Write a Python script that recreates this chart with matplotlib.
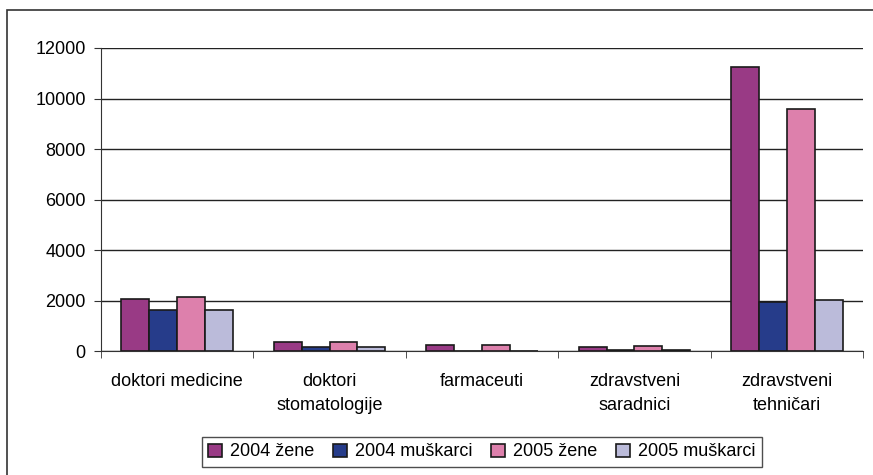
import numpy as np
import matplotlib
matplotlib.use('Agg')
import matplotlib.pyplot as plt
from matplotlib.patches import Rectangle

plt.rcParams['font.family'] = ['Liberation Sans', 'DejaVu Sans']

categories = ['doktori medicine', 'doktori\nstomatologije', 'farmaceuti',
              'zdravstveni\nsaradnici', 'zdravstveni\ntehničari']
series_names = ['2004 žene', '2004 muškarci', '2005 žene', '2005 muškarci']
zene_2004 = [2070, 350, 255, 160, 11260]
muskarci_2004 = [1640, 150, 15, 55, 1925]
zene_2005 = [2150, 350, 255, 185, 9570]
muskarci_2005 = [1640, 175, 15, 40, 2015]
colors = ['#993A85', '#263C8A', '#DD80AC', '#BBBBDA']
yticks = [0, 2000, 4000, 6000, 8000, 10000, 12000]

fig = plt.figure(figsize=(8.73, 4.75), dpi=100)
ax = fig.add_axes([101 / 873, 1 - 351 / 475, 762 / 873, 303 / 475])

# outer chart frame (right and bottom edges fall outside the image)
fig.patches.append(Rectangle((7 / 873, -0.05), 1, 1.05 - 10 / 475, transform=fig.transFigure,
                             fill=False, edgecolor='#333333', linewidth=1.2))

x = np.arange(len(categories))
w = 0.183
data = [zene_2004, muskarci_2004, zene_2005, muskarci_2005]
for i, (vals, name, c) in enumerate(zip(data, series_names, colors)):
    ax.bar(x + (i - 1.5) * w, vals, w, color=c, edgecolor='#1a1a1a',
           linewidth=1.2, label=name, zorder=3)

ax.set_xlim(-0.5, len(categories) - 0.5)
ax.set_ylim(0, 12000)
ax.set_yticks(yticks)
ax.set_yticklabels([str(v) for v in yticks], fontsize=13)
ax.yaxis.grid(True, color='#222222', linewidth=1)
ax.set_axisbelow(True)

ax.set_xticks(x)
ax.set_xticklabels(categories, fontsize=13, linespacing=1.55)
ax.tick_params(axis='x', length=0, pad=16)
ax.set_xticks(np.arange(len(categories) + 1) - 0.5, minor=True)
ax.tick_params(axis='x', which='minor', length=5, color='#333333')
ax.tick_params(axis='y', length=5, color='#333333', pad=6)

for s in ['top', 'right']:
    ax.spines[s].set_visible(False)
ax.spines['left'].set_color('#333333')
ax.spines['bottom'].set_color('#333333')

leg = fig.legend(loc='center', bbox_to_anchor=(482 / 873, 1 - 452 / 475), ncol=4,
                 fontsize=13, frameon=True, fancybox=False, edgecolor='#222222',
                 handlelength=0.75, handleheight=0.75, handletextpad=0.45,
                 columnspacing=1.05, borderpad=0.35, borderaxespad=0)
leg.get_frame().set_linewidth(1.0)

fig.savefig('out.png', dpi=100)
